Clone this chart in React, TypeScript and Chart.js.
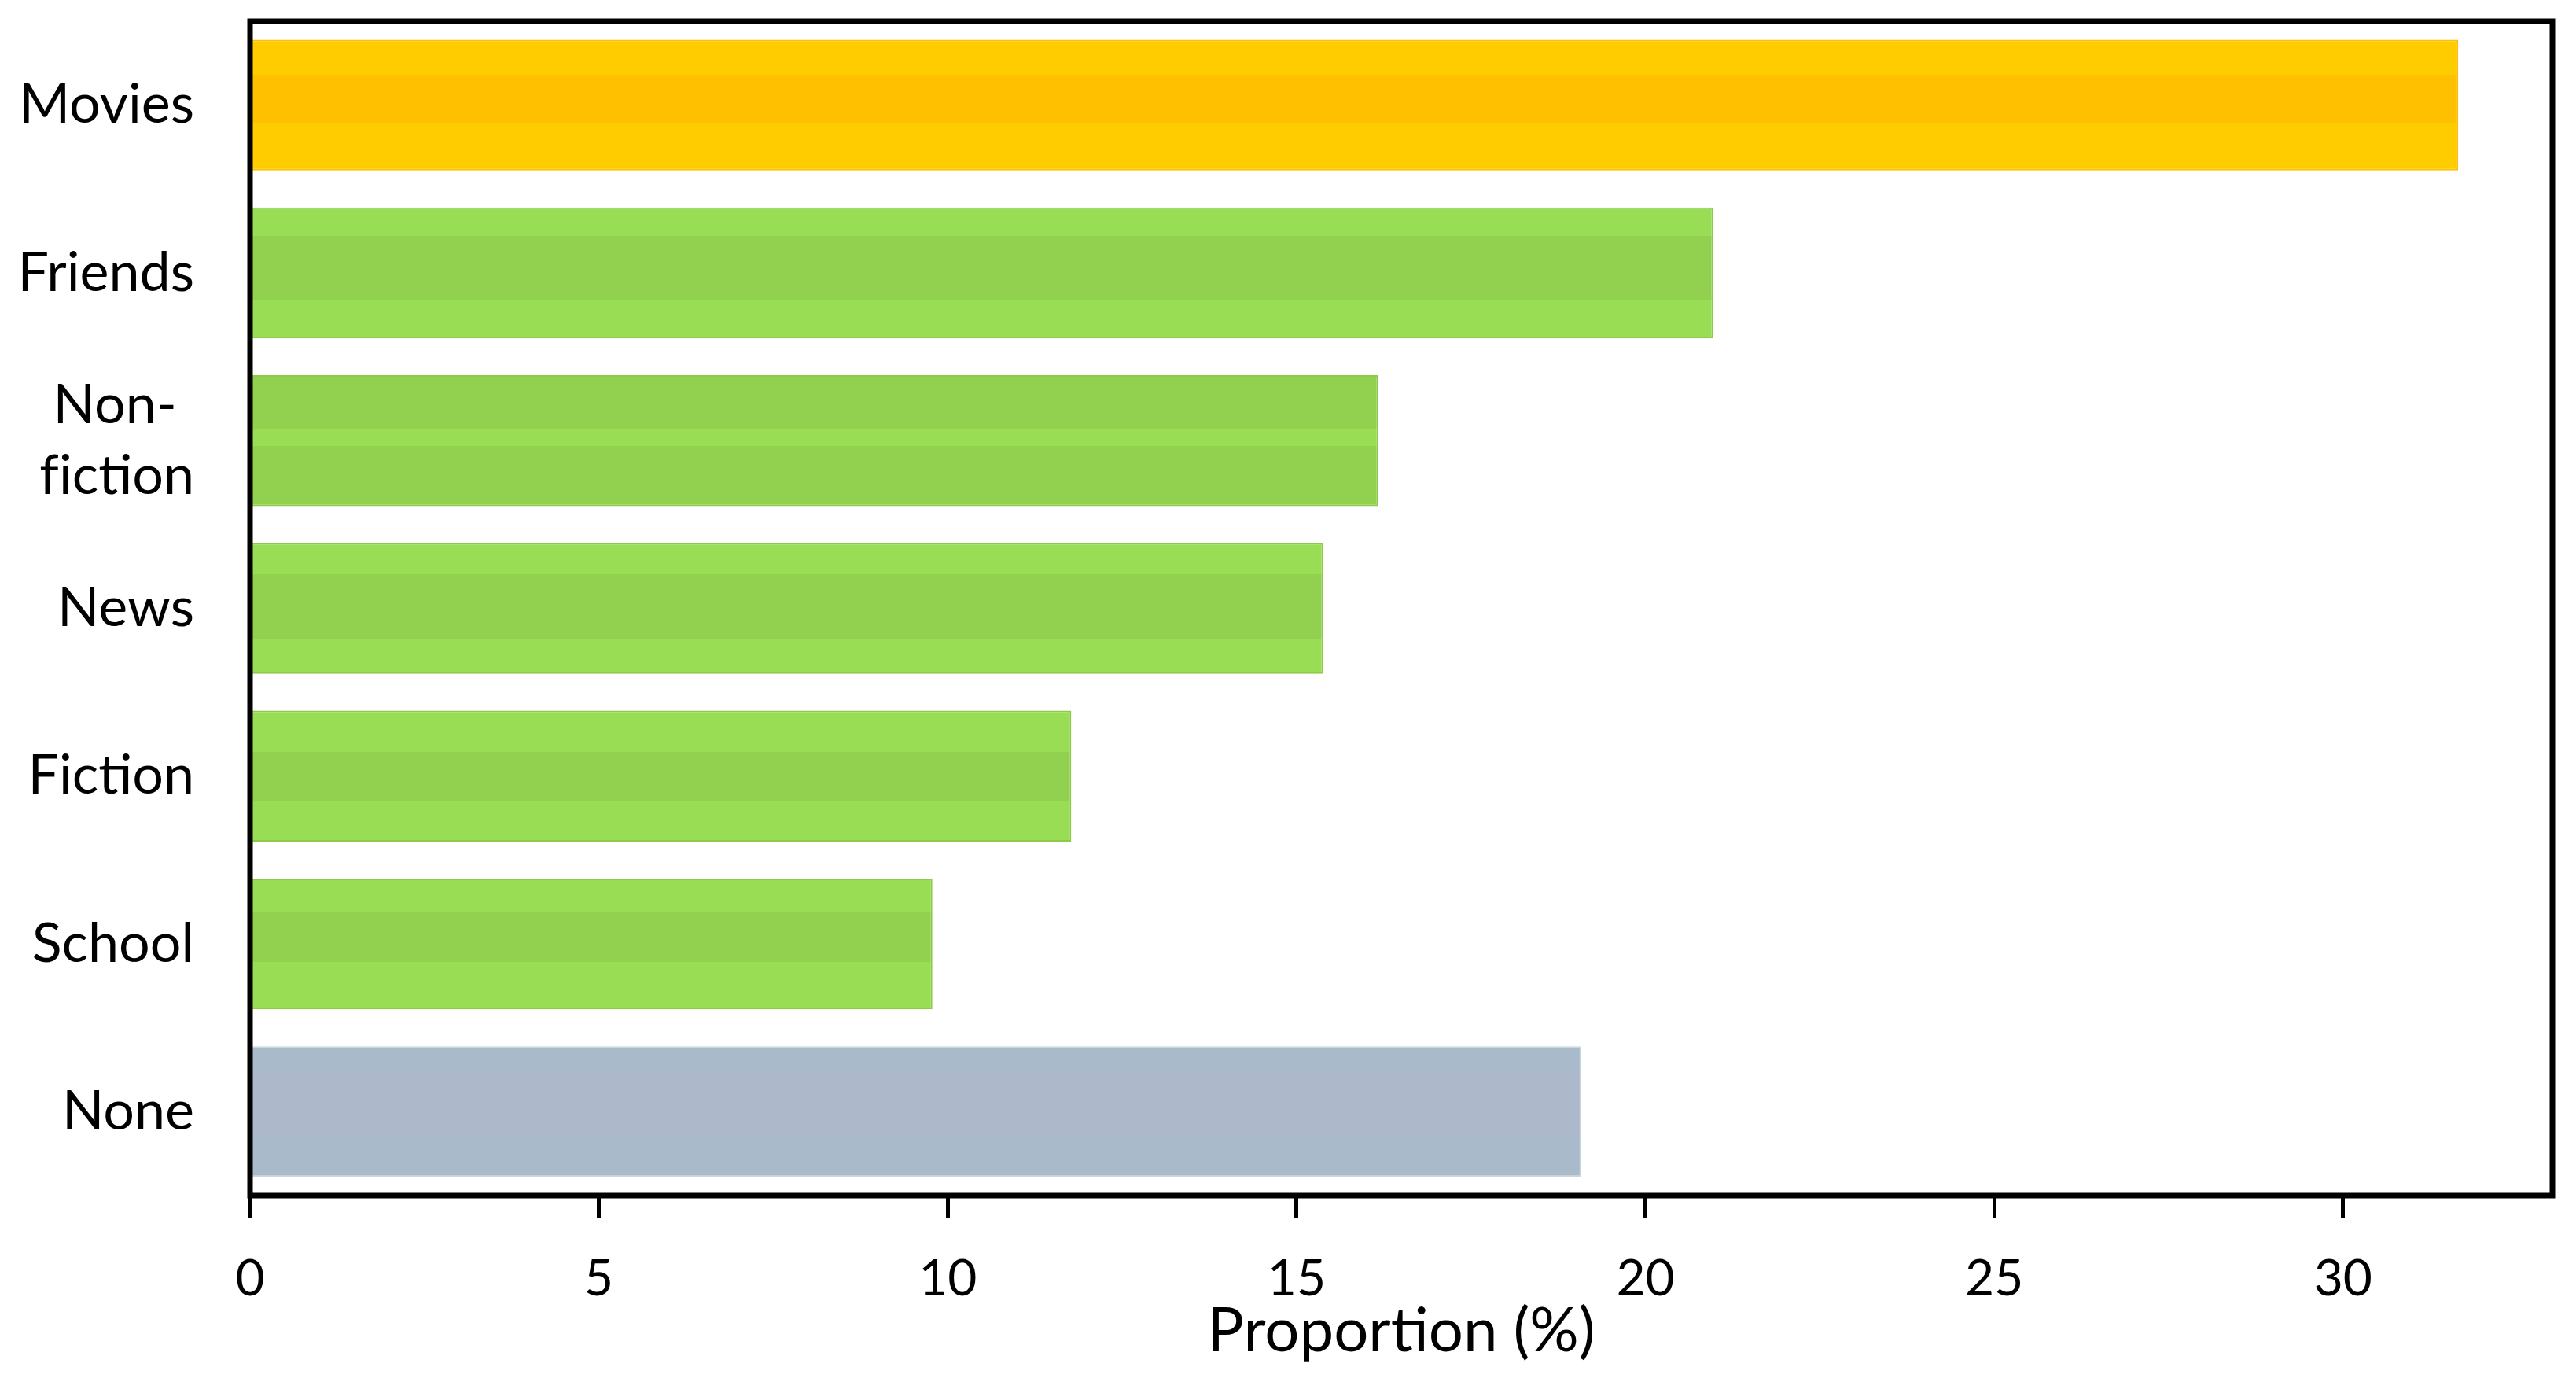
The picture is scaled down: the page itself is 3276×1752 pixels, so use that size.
import React, { useEffect, useRef } from "react";
import { Chart, registerables } from "chart.js";

Chart.register(...registerables);

// ---- data ----
const categories: (string | string[])[] = [
  "Movies",
  "Friends",
  ["Non- \u200A", "f\u200Ciction"],
  "News",
  "Fiction",
  "School",
  "None",
];
const proportions = [31.65, 20.97, 16.17, 15.38, 11.77, 9.78, 19.08];
const xTickMin = 0;
const xTickMax = 33;
const xTickStep = 5;
const xTitle = "Proportion (%)";

// ---- styles ----
const outerColors = ["#FFCC00", "#99DD55", "#92D050", "#99DD55", "#99DD55", "#99DD55", "#A9BACA"];
const innerColors = ["#FFC000", "#92D050", "#99DD55", "#92D050", "#92D050", "#92D050", "#ADB8CA"];
const bandEdges: [number, number][] = [
  [0.265, 0.64],
  [0.22, 0.71],
  [0.41, 0.54],
  [0.24, 0.74],
  [0.315, 0.685],
  [0.26, 0.64],
  [0.2, 0.7],
];
const borderColors = ["#FFBE00", "#8CCB48", "#8CCB48", "#8CCB48", "#8CCB48", "#8CCB48", "#C9D6DC"];

const CAT_PCT = 1;
const BAR_PCT = 0.78;
const W = 3276;
const H = 1752;
const PLOT_LEFT = 318;
const PLOT_RIGHT = 3246;
const PLOT_TOP = 27;
const PLOT_BOTTOM = 1520;
const FONT = "Lato";

function bandFill(ctx: any) {
  const chart = ctx.chart;
  const i = ctx.dataIndex;
  const ys = chart.scales?.y;
  if (!chart.chartArea || !ys || i === undefined) return outerColors[i ?? 0];
  const c = ys.getPixelForValue(i);
  const cat = Math.abs(ys.getPixelForValue(1) - ys.getPixelForValue(0));
  const h = cat * CAT_PCT * BAR_PCT;
  const top = c - h / 2;
  const g = chart.ctx.createLinearGradient(0, top, 0, top + h);
  const [a, b] = bandEdges[i];
  g.addColorStop(0, outerColors[i]);
  g.addColorStop(a, outerColors[i]);
  g.addColorStop(a, innerColors[i]);
  g.addColorStop(b, innerColors[i]);
  g.addColorStop(b, outerColors[i]);
  g.addColorStop(1, outerColors[i]);
  return g;
}

const framePlugin = {
  id: "frame",
  afterDatasetsDraw(chart: any) {
    const { ctx, chartArea: a } = chart;
    ctx.save();
    ctx.strokeStyle = "#000";
    ctx.lineWidth = 7;
    ctx.lineJoin = "miter";
    ctx.strokeRect(a.left, a.top, a.right - a.left, a.bottom - a.top);
    ctx.restore();
  },
};

export default function App() {
  const ref = useRef<HTMLCanvasElement | null>(null);

  useEffect(() => {
    if (!ref.current) return;
    const chart = new Chart(ref.current, {
      type: "bar",
      data: {
        labels: categories as any,
        datasets: [
          {
            data: proportions,
            backgroundColor: bandFill as any,
            borderColor: borderColors,
            borderWidth: 2,
            categoryPercentage: CAT_PCT,
            barPercentage: BAR_PCT,
          },
        ],
      },
      options: {
        indexAxis: "y",
        responsive: false,
        animation: false,
        maintainAspectRatio: false,
        devicePixelRatio: 1,
        layout: {
          padding: { left: 0, top: PLOT_TOP, right: W - PLOT_RIGHT, bottom: 0 },
        },
        plugins: {
          legend: { display: false },
          tooltip: { enabled: false },
          title: { display: false },
        },
        scales: {
          x: {
            type: "linear",
            position: "bottom",
            min: xTickMin,
            max: xTickMax,
            afterFit: (s: any) => {
              s.height = H - PLOT_BOTTOM;
              s.paddingLeft = 0;
              s.paddingRight = 0;
            },
            border: { display: false },
            grid: {
              display: true,
              drawOnChartArea: false,
              drawTicks: true,
              tickLength: 28,
              tickWidth: 5,
              tickColor: "#000",
            },
            ticks: {
              stepSize: xTickStep,
              includeBounds: false,
              color: "#000",
              padding: 40,
              maxRotation: 0,
              font: { family: FONT, size: 64, lineHeight: 1.2 },
            },
            title: {
              display: true,
              text: xTitle,
              color: "#000",
              padding: { top: 0, bottom: 12 },
              font: { family: FONT, size: 78, lineHeight: 1.2 },
            },
          },
          y: {
            type: "category",
            position: "left",
            afterFit: (s: any) => {
              s.width = PLOT_LEFT;
              s.paddingTop = 0;
              s.paddingBottom = 0;
            },
            border: { display: false },
            grid: { display: false, drawTicks: false },
            ticks: {
              color: "#000",
              padding: 71,
              autoSkip: false,
              font: { family: FONT, size: 70, lineHeight: 1.29 },
            },
          },
        },
      },
      plugins: [framePlugin],
    });
    return () => chart.destroy();
  }, []);

  return (
    <div style={{ position: "absolute", left: 0, top: 0, width: W, height: H, background: "#fff" }}>
      <canvas ref={ref} width={W} height={H} style={{ width: W, height: H, display: "block" }} />
    </div>
  );
}
